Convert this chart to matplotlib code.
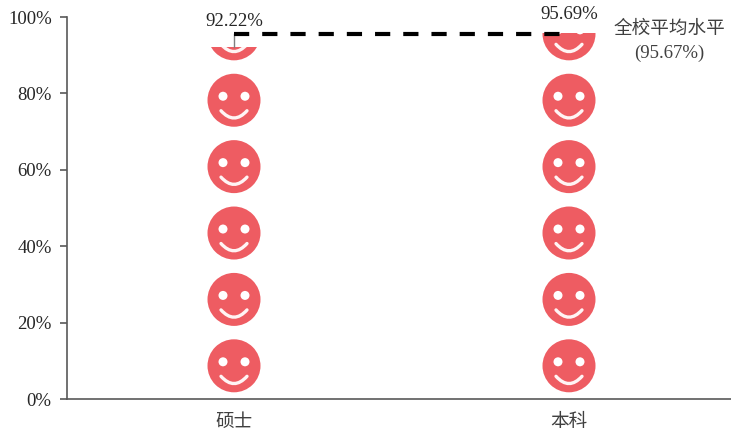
import matplotlib
matplotlib.use("Agg")
import matplotlib.pyplot as plt
from matplotlib.patches import Ellipse, PathPatch, Rectangle
from matplotlib.path import Path

plt.rcParams["font.family"] = ["Liberation Serif", "Noto Sans CJK SC"]

categories = ["硕士", "本科"]
values = [92.22, 95.69]
average = 95.67
y_ticks = [0, 20, 40, 60, 80, 100]
icon_step = 17.38

FACE = "#EE5C62"
AXIS = "#595959"


def draw_smiley(ax, x, y, top, sx, sy):
    clip = Rectangle((x - 40 * sx, 0), 80 * sx, top, transform=ax.transData)
    smile = Path(
        [(x - 13 * sx, y - 10.5 * sy), (x, y - 25 * sy), (x + 13 * sx, y - 10.5 * sy)],
        [Path.MOVETO, Path.CURVE3, Path.CURVE3],
    )
    parts = [
        Ellipse((x, y), 53 * sx, 53 * sy, fc=FACE, ec="none"),
        Ellipse((x - 11 * sx, y + 4 * sy), 9 * sx, 9 * sy, fc="white", ec="none"),
        Ellipse((x + 11 * sx, y + 4 * sy), 9 * sx, 9 * sy, fc="white", ec="none"),
        PathPatch(smile, fc="none", ec="#FFF4F4", lw=2.4, capstyle="round"),
    ]
    for part in parts:
        ax.add_patch(part)
        part.set_clip_path(clip)


fig = plt.figure(figsize=(7.31, 4.32), dpi=100)
ax = fig.add_axes([67 / 731, 33 / 432, 664 / 731, 382 / 432])
ax.set_xlim(-167 / 335, 1 + 162 / 335)
ax.set_ylim(0, 100)

# size of one pixel in data units
sx = (ax.get_xlim()[1] - ax.get_xlim()[0]) / 664
sy = 100 / 382

for i, val in enumerate(values):
    n = 0
    while n * icon_step < val:
        draw_smiley(ax, i, icon_step * (n + 0.5), val, sx, sy)
        n += 1

ax.plot([0, 0], [values[0], average], color="#7F7F7F", lw=1.0, zorder=3)
ax.plot([0, 1], [average, average], color="black", lw=3, ls=(0, (3.65, 3.12)), zorder=4)

ax.text(0, 98.7, f"{values[0]:.2f}%", ha="center", va="center", fontsize=13.5, color="#262626",
        clip_on=False)
ax.text(1, 100.6, f"{values[1]:.2f}%", ha="center", va="center", fontsize=13.5, color="#262626",
        clip_on=False)
ax.text(1.3, 96.9, "全校平均水平", ha="center", va="center", fontsize=13.4, color="#404040")
ax.text(1.3, 90.6, f"({average:.2f}%)", ha="center", va="center", fontsize=13.5, color="#404040")

ax.set_xticks([0, 1], categories)
ax.set_yticks(y_ticks, [f"{t}%" for t in y_ticks])
ax.tick_params(axis="x", length=0, pad=11, labelsize=13.4, labelcolor="#404040")
ax.tick_params(axis="y", length=5, width=1.2, color=AXIS, labelsize=13.5, labelcolor="#262626", pad=6)

ax.spines["top"].set_visible(False)
ax.spines["right"].set_visible(False)
for side in ["left", "bottom"]:
    ax.spines[side].set_color(AXIS)
    ax.spines[side].set_linewidth(1.2)

fig.savefig("out.png", dpi=100)
